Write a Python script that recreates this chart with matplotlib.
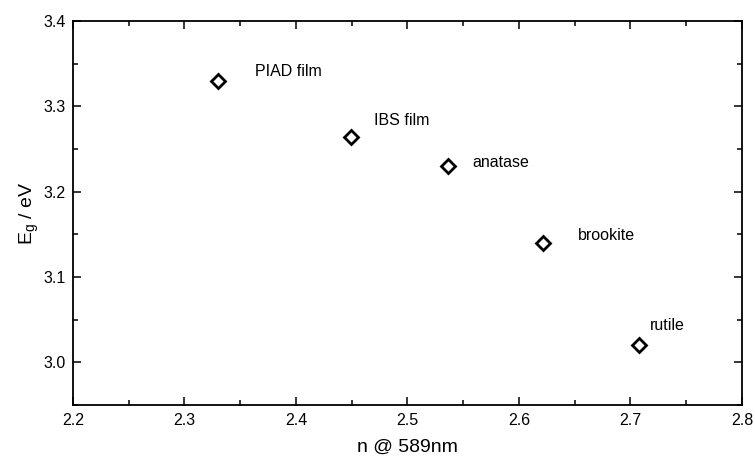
import matplotlib
matplotlib.use("Agg")
import matplotlib.pyplot as plt
from matplotlib.ticker import MultipleLocator

plt.rcParams['font.family'] = ['Liberation Sans', 'DejaVu Sans']

# data
names = ["PIAD film", "IBS film", "anatase", "brookite", "rutile"]
n_589 = [2.330, 2.449, 2.536, 2.622, 2.708]
eg = [3.330, 3.264, 3.230, 3.140, 3.020]

# label anchor positions (data coords)
label_x = [2.363, 2.470, 2.558, 2.653, 2.717]
label_y = [3.341, 3.283, 3.234, 3.149, 3.043]

fig = plt.figure(figsize=(7.55, 4.59), dpi=100)
ax = fig.add_axes([0.0967, 0.1176, 0.886, 0.837])

ax.plot(n_589, eg, linestyle='none', marker='D', markersize=7.3,
        markerfacecolor='white', markeredgecolor='black', markeredgewidth=2)

for name, lx, ly in zip(names, label_x, label_y):
    ax.text(lx, ly, name, fontsize=11.5, va='center', ha='left')

ax.set_xlim(2.2, 2.8)
ax.set_ylim(2.95, 3.4)
ax.xaxis.set_major_locator(MultipleLocator(0.1))
ax.xaxis.set_minor_locator(MultipleLocator(0.05))
ax.yaxis.set_major_locator(MultipleLocator(0.1))
ax.yaxis.set_minor_locator(MultipleLocator(0.05))
ax.xaxis.set_major_formatter(plt.FormatStrFormatter('%.1f'))
ax.yaxis.set_major_formatter(plt.FormatStrFormatter('%.1f'))

ax.tick_params(which='both', direction='in', top=True, right=True, width=1.1,
               labelsize=11.5)
ax.tick_params(which='major', length=6)
ax.tick_params(which='minor', length=3.5)
ax.tick_params(axis='x', which='major', pad=5.5)
ax.tick_params(axis='y', which='major', pad=5)
for sp in ax.spines.values():
    sp.set_linewidth(1.3)

ax.set_xlabel("n @ 589nm", fontsize=14, labelpad=8)
ax.set_ylabel("E$_\\mathregular{g}$ / eV", fontsize=14, labelpad=2)

fig.savefig("out.png", dpi=100)
